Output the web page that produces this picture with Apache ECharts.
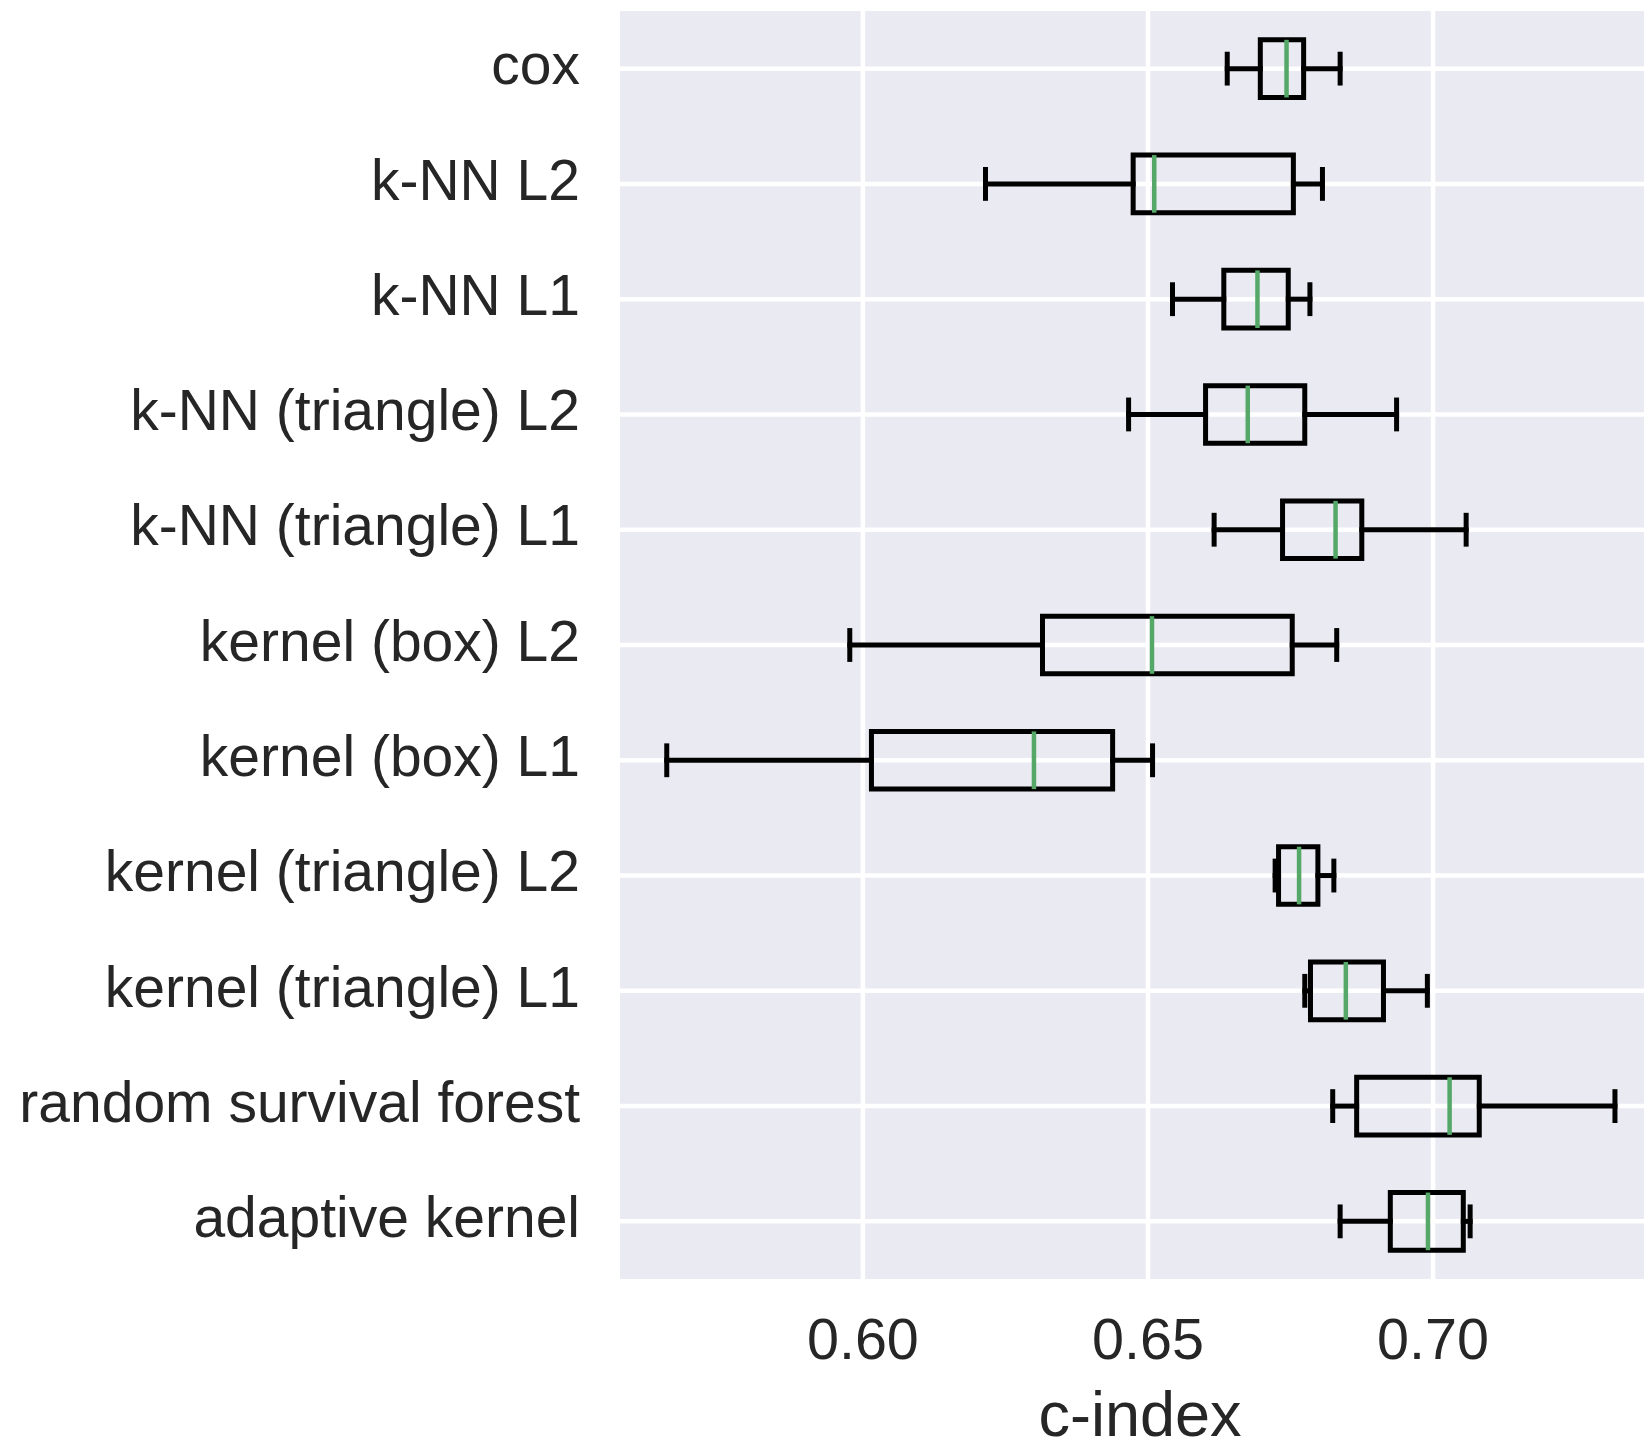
<!DOCTYPE html>
<html>
<head>
<meta charset="utf-8">
<script src="https://cdn.jsdelivr.net/npm/echarts@6/dist/echarts.min.js"></script>
<style>
  html, body { margin: 0; padding: 0; background: #fff; }
  #chart { width: 1644px; height: 1445px; }
</style>
</head>
<body>
<div id="chart"></div>
<script>
// methods, top to bottom
var categories = ['cox', 'k-NN L2', 'k-NN L1', 'k-NN (triangle) L2', 'k-NN (triangle) L1',
  'kernel (box) L2', 'kernel (box) L1', 'kernel (triangle) L2', 'kernel (triangle) L1',
  'random survival forest', 'adaptive kernel']
// c-index boxplot stats
var whiskerLow = [0.6639, 0.6215, 0.6543, 0.6466, 0.6616, 0.5977, 0.5656, 0.6723, 0.6775, 0.6824, 0.6837]
var q1 = [0.6697, 0.6474, 0.6633, 0.6601, 0.6736, 0.6315, 0.6015, 0.6729, 0.6785, 0.6866, 0.6925]
var median = [0.6743, 0.6511, 0.6692, 0.6675, 0.6829, 0.6507, 0.6300, 0.6765, 0.6847, 0.7029, 0.6991]
var q3 = [0.6773, 0.6755, 0.6746, 0.6775, 0.6875, 0.6753, 0.6438, 0.6798, 0.6913, 0.7081, 0.7053]
var whiskerHigh = [0.6837, 0.6806, 0.6784, 0.6936, 0.7058, 0.6831, 0.6508, 0.6826, 0.6990, 0.7319, 0.7065]
var xTicks = [0.60, 0.65, 0.70]
var xMin = 0.5574
var xMax = 0.7398

var FONT = "'Liberation Sans', Arial, Helvetica, sans-serif"
var TEXT = '#262626'

var boxData = categories.map(function (c, i) {
  return [i, whiskerLow[i], q1[i], median[i], q3[i], whiskerHigh[i]]
})

function renderBox (params, api) {
  var i = api.value(0)
  var band = api.size([0, 1])[1]
  var y = api.coord([xMin, i])[1]
  var lo = api.coord([api.value(1), i])[0]
  var b1 = api.coord([api.value(2), i])[0]
  var md = api.coord([api.value(3), i])[0]
  var b3 = api.coord([api.value(4), i])[0]
  var hi = api.coord([api.value(5), i])[0]
  var h = band * 0.25
  var c = band * 0.125
  var black = { stroke: '#000', lineWidth: 5, lineCap: 'square', fill: null }
  return {
    type: 'group',
    children: [
      { type: 'line', shape: { x1: lo, y1: y, x2: b1, y2: y }, style: black },
      { type: 'line', shape: { x1: b3, y1: y, x2: hi, y2: y }, style: black },
      { type: 'line', shape: { x1: lo, y1: y - c, x2: lo, y2: y + c }, style: black },
      { type: 'line', shape: { x1: hi, y1: y - c, x2: hi, y2: y + c }, style: black },
      { type: 'rect', shape: { x: b1, y: y - h, width: b3 - b1, height: 2 * h },
        style: { stroke: '#000', lineWidth: 5, fill: null, lineJoin: 'miter' } },
      { type: 'line', shape: { x1: md, y1: y - h, x2: md, y2: y + h },
        style: { stroke: '#55a868', lineWidth: 4.5 } }
    ]
  }
}

var chart = echarts.init(document.getElementById('chart'))
chart.setOption({
  backgroundColor: '#ffffff',
  animation: false,
  grid: {
    left: 620, right: -16, top: 11, bottom: 166,
    outerBoundsMode: 'none',
    containLabel: false,
    show: true, backgroundColor: '#eaeaf2', borderWidth: 0
  },
  xAxis: {
    type: 'value',
    min: xMin,
    max: xMax,
    name: 'c-index',
    nameLocation: 'middle',
    nameGap: 108,
    nameTextStyle: { fontSize: 63, color: TEXT, fontFamily: FONT },
    axisLine: { show: false },
    axisTick: { show: false },
    splitLine: { show: false },
    axisLabel: {
      customValues: xTicks,
      margin: 35,
      fontSize: 57.5,
      color: TEXT,
      fontFamily: FONT,
      formatter: function (v) { return v.toFixed(2) }
    }
  },
  yAxis: {
    type: 'category',
    data: categories,
    inverse: true,
    axisLine: { show: false },
    axisTick: { show: false },
    splitLine: { show: false },
    axisLabel: { margin: 40, fontSize: 57, color: TEXT, fontFamily: FONT }
  },
  series: [
    {
      // horizontal grid lines at each category
      type: 'custom',
      z: 1,
      silent: true,
      encode: { x: 0, y: 1 },
      data: categories.map(function (c, i) { return [xMin, i] }),
      renderItem: function (params, api) {
        var cs = params.coordSys
        var y = api.coord([xMin, api.value(1)])[1]
        return { type: 'line', shape: { x1: cs.x, y1: y, x2: cs.x + cs.width, y2: y },
          style: { stroke: '#ffffff', lineWidth: 4.5 } }
      }
    },
    {
      // vertical grid lines at the ticks
      type: 'custom',
      z: 1,
      silent: true,
      encode: { x: 0, y: 1 },
      data: xTicks.map(function (v) { return [v, 0] }),
      renderItem: function (params, api) {
        var cs = params.coordSys
        var x = api.coord([api.value(0), 0])[0]
        return { type: 'line', shape: { x1: x, y1: cs.y, x2: x, y2: cs.y + cs.height },
          style: { stroke: '#ffffff', lineWidth: 4.5 } }
      }
    },
    {
      type: 'custom',
      z: 5,
      encode: { x: [1, 2, 3, 4, 5], y: 0 },
      data: boxData,
      renderItem: renderBox
    }
  ]
})
</script>
</body>
</html>
